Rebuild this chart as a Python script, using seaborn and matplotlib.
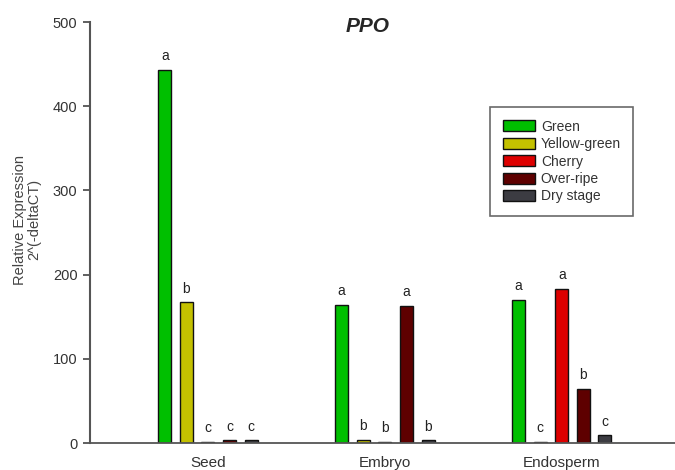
import numpy as np
import pandas as pd
import matplotlib
matplotlib.use("Agg")
import matplotlib.pyplot as plt
import seaborn as sns

tissues = ["Seed", "Embryo", "Endosperm"]
stages = ["Green", "Yellow-green", "Cherry", "Over-ripe", "Dry stage"]
seed_vals = [443, 167, 1, 3, 3]
embryo_vals = [164, 4, 1, 163, 3]
endosperm_vals = [170, 1, 183, 64, 9]
seed_letters = ["a", "b", "c", "c", "c"]
embryo_letters = ["a", "b", "b", "a", "b"]
endosperm_letters = ["a", "c", "a", "b", "c"]
colors = ["#00bf00", "#c4c100", "#dd0000", "#5e0000", "#3c3c42"]

df = pd.DataFrame({
    "tissue": np.repeat(tissues, len(stages)),
    "stage": stages * len(tissues),
    "expr": seed_vals + embryo_vals + endosperm_vals,
})
letters = {"Seed": seed_letters, "Embryo": embryo_letters, "Endosperm": endosperm_letters}

sns.set_style("ticks")
plt.rcParams["font.family"] = ["Liberation Sans", "DejaVu Sans"]

fig = plt.figure(figsize=(6.75, 4.7), dpi=100)
ax = fig.add_axes([0.1333, 0.0574, 0.8667, 0.8957])

sns.barplot(data=df, x="tissue", y="expr", hue="stage", palette=colors,
            width=0.61, gap=0.4, edgecolor="#111111", linewidth=1.0,
            saturation=1, ax=ax, err_kws={"linewidth": 0})

# significance letters
for si, cont in enumerate(ax.containers):
    for ti, bar in enumerate(cont):
        h = bar.get_height()
        ax.text(bar.get_x() + bar.get_width() / 2, h + 8, letters[tissues[ti]][si],
                ha="center", va="bottom", fontsize=10, color="#222222")

ax.set_xlim(-0.667, 2.64)
ax.set_ylim(0, 500)
ax.set_yticks([0, 100, 200, 300, 400, 500])
ax.tick_params(axis="y", direction="out", length=5, width=1.2, color="#444444",
               labelsize=10.5, labelcolor="#333333", pad=4)
ax.tick_params(axis="x", length=0, labelsize=11, labelcolor="#333333", pad=9)
ax.set_xlabel("")
ax.set_ylabel("Relative Expression\n2^(-deltaCT)", fontsize=10.5, color="#444444",
              linespacing=1.0)
ax.yaxis.set_label_coords(-0.083, 0.53)
sns.despine(ax=ax)
ax.spines["left"].set_color("#555555")
ax.spines["left"].set_linewidth(1.5)
ax.spines["bottom"].set_color("#555555")
ax.spines["bottom"].set_linewidth(1.3)

leg = ax.legend(loc="upper left", bbox_to_anchor=(0.684, 0.798), fontsize=10,
                frameon=True, fancybox=False, edgecolor="#444444",
                handlelength=2.3, handleheight=0.85, labelspacing=0.25,
                borderpad=0.9, handletextpad=0.45, borderaxespad=0, title=None)
leg.get_frame().set_linewidth(1.2)
for t in leg.get_texts():
    t.set_color("#333333")

fig.text(0.544, 0.943, "PPO", ha="center", va="center", fontsize=15,
         fontweight="bold", fontstyle="italic")

fig.savefig("out.png", dpi=100)
plt.close()
